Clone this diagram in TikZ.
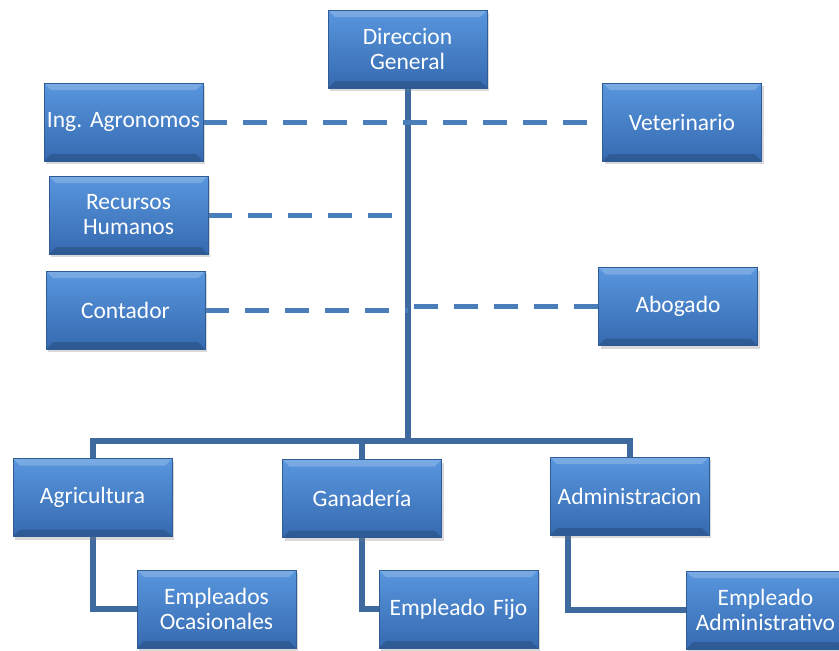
\documentclass[tikz,border=0pt]{standalone}
\usepackage{fontspec}
\setmainfont{Carlito}
\usetikzlibrary{shadows,calc,backgrounds}
\frenchspacing

\definecolor{boxtop}{RGB}{88,150,222}
\definecolor{boxbot}{RGB}{54,106,176}
\definecolor{boxedge}{RGB}{48,92,150}
\definecolor{linkblue}{RGB}{62,106,160}
\definecolor{dashblue}{RGB}{74,126,187}

\tikzset{
  cargo/.style={rectangle, minimum width=159pt, minimum height=78pt,
    inner sep=0pt, text width=159pt, align=center, text=white,
    font=\fontsize{23.5}{25}\selectfont,
    top color=boxtop, bottom color=boxbot, draw=boxedge, line width=0.5pt,
    drop shadow={shadow xshift=2pt, shadow yshift=-3pt, opacity=0.3},
    path picture={
      \fill[white,opacity=0.2] (path picture bounding box.north west)
        -- (path picture bounding box.north east)
        -- ([shift={(-7pt,-7pt)}]path picture bounding box.north east)
        -- ([shift={(7pt,-7pt)}]path picture bounding box.north west) -- cycle;
      \fill[black,opacity=0.16] (path picture bounding box.south west)
        -- (path picture bounding box.south east)
        -- ([shift={(-7pt,7pt)}]path picture bounding box.south east)
        -- ([shift={(7pt,7pt)}]path picture bounding box.south west) -- cycle;
    }},
  enlace/.style={draw=linkblue, line width=6pt},
  staff/.style={draw=dashblue, line width=5pt, dash pattern=on 24pt off 16pt}
}

\begin{document}
\begin{tikzpicture}[x=1pt, y=-1pt]
  \useasboundingbox (0,0) rectangle (839,651);
  % top
  \node[cargo] (dir) at (407.5,49) {Direccion\\General};
  % staff boxes
  \node[cargo] (ing) at (123.5,122) {Ing. Agronomos};
  \node[cargo] (vet) at (682,122) {Veterinario};
  \node[cargo] (rrhh) at (128.5,215) {Recursos\\Humanos};
  \node[cargo] (cont) at (125.5,310) {Contador};
  \node[cargo] (abog) at (678,306.5) {Abogado};
  % areas
  \node[cargo] (agri) at (92.5,497.5) {Agricultura};
  \node[cargo] (gan) at (362,498.5) {Ganadería};
  \node[cargo] (adm) at (629.5,496) {Administracion};
  % empleados
  \node[cargo] (ocas) at (216.5,609) {Empleados\\Ocasionales};
  \node[cargo] (fijo) at (458.5,609) {Empleado Fijo};
  \node[cargo] (empadm) at (765.5,610) {Empleado\\Administrativo};
  \coordinate (hub) at (407.5,441);

  \begin{scope}[on background layer]
    % trunk and branches
    \draw[enlace] (dir.south) -- (hub);
    \draw[enlace] (agri.north) |- (hub) -| (adm.north);
    \draw[enlace] (gan.north) -- (gan.north |- hub);
    \draw[enlace] (agri.south) |- (ocas.west);
    \draw[enlace] (gan.south) |- (fijo.west);
    \draw[enlace] ($(adm.south west)+(18,0)$) |- (empadm.west);
    % dashed staff lines
    \draw[staff] (ing.east) -- (vet.west);
    \draw[staff] (rrhh.east) -- (rrhh.east -| hub);
    \draw[staff] (cont.east) -- (cont.east -| hub);
    \draw[staff] (abog.west) -- (abog.west -| hub);
  \end{scope}
\end{tikzpicture}
\end{document}
